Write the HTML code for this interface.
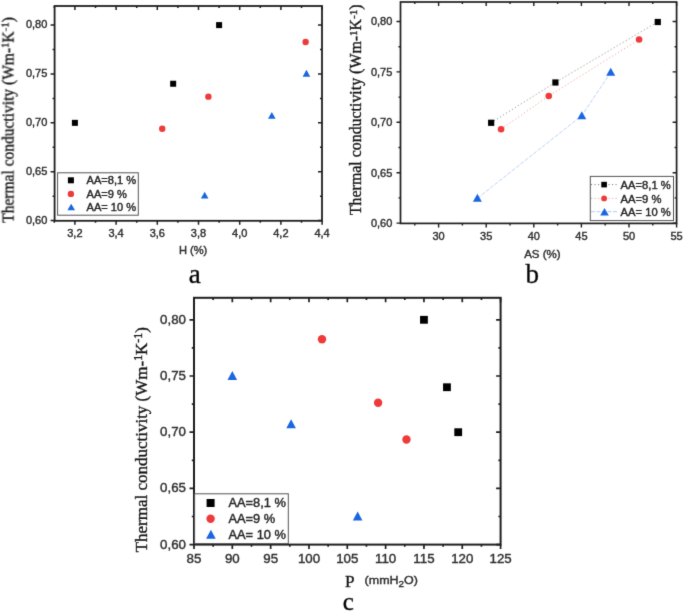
<!DOCTYPE html>
<html><head><meta charset="utf-8"><style>
html,body{margin:0;padding:0;background:#fff;width:685px;height:611px;overflow:hidden}
svg{display:block;will-change:transform}
text{stroke:#2a2a2a;stroke-width:0.4px}
</style></head><body>
<svg width="685" height="611" viewBox="0 0 685 611" font-family='"Liberation Sans", sans-serif'>
<defs><filter id="bl" x="0" y="0" width="685" height="611" filterUnits="userSpaceOnUse" color-interpolation-filters="sRGB"><feConvolveMatrix order="3" kernelMatrix="0.01134 0.08382 0.01134 0.08382 0.61935 0.08382 0.01134 0.08382 0.01134" edgeMode="duplicate" preserveAlpha="true"/></filter></defs><g filter="url(#bl)">
<rect width="685" height="611" fill="#fff"/>
<path d="M54.30 220.80v2 M54.30 6.00v2 M74.90 220.80v4 M74.90 6.00v4 M95.50 220.80v2 M95.50 6.00v2 M116.10 220.80v4 M116.10 6.00v4 M136.70 220.80v2 M136.70 6.00v2 M157.30 220.80v4 M157.30 6.00v4 M177.90 220.80v2 M177.90 6.00v2 M198.50 220.80v4 M198.50 6.00v4 M219.10 220.80v2 M219.10 6.00v2 M239.70 220.80v4 M239.70 6.00v4 M260.30 220.80v2 M260.30 6.00v2 M280.90 220.80v4 M280.90 6.00v4 M301.50 220.80v2 M301.50 6.00v2 M322.10 220.80v4 M322.10 6.00v4 M54.60 220.60h-4 M322.00 220.60h-4 M54.60 196.16h-2 M322.00 196.16h-2 M54.60 171.72h-4 M322.00 171.72h-4 M54.60 147.29h-2 M322.00 147.29h-2 M54.60 122.85h-4 M322.00 122.85h-4 M54.60 98.41h-2 M322.00 98.41h-2 M54.60 73.97h-4 M322.00 73.97h-4 M54.60 49.54h-2 M322.00 49.54h-2 M54.60 25.10h-4 M322.00 25.10h-4" stroke="#1e1e1e" stroke-width="1.5" fill="none"/>
<rect x="54.6" y="6.0" width="267.4" height="214.8" fill="none" stroke="#1e1e1e" stroke-width="1.8"/>
<text x="74.90" y="236.6" font-size="11" text-anchor="middle" fill="#333333">3,2</text>
<text x="116.10" y="236.6" font-size="11" text-anchor="middle" fill="#333333">3,4</text>
<text x="157.30" y="236.6" font-size="11" text-anchor="middle" fill="#333333">3,6</text>
<text x="198.50" y="236.6" font-size="11" text-anchor="middle" fill="#333333">3,8</text>
<text x="239.70" y="236.6" font-size="11" text-anchor="middle" fill="#333333">4,0</text>
<text x="280.90" y="236.6" font-size="11" text-anchor="middle" fill="#333333">4,2</text>
<text x="322.10" y="236.6" font-size="11" text-anchor="middle" fill="#333333">4,4</text>
<text x="47.3" y="223.90" font-size="11" text-anchor="end" fill="#333333">0,60</text>
<text x="47.3" y="175.02" font-size="11" text-anchor="end" fill="#333333">0,65</text>
<text x="47.3" y="126.15" font-size="11" text-anchor="end" fill="#333333">0,70</text>
<text x="47.3" y="77.27" font-size="11" text-anchor="end" fill="#333333">0,75</text>
<text x="47.3" y="28.40" font-size="11" text-anchor="end" fill="#333333">0,80</text>
<text x="193.1" y="254.3" font-size="11" text-anchor="middle" fill="#333333" textLength="28.4" lengthAdjust="spacingAndGlyphs">H (%)</text>
<text x="194.7" y="283" style="font-family:'Liberation Serif', serif" font-size="27" text-anchor="middle" fill="#000">a</text>
<text transform="translate(13.6 222.8) rotate(-90) scale(0.97 1)" style="font-family:'Liberation Serif', serif" font-size="16" fill="#111">Thermal conductivity (Wm-<tspan font-size="11.20" dy="-4.64">1</tspan><tspan dy="4.64">K</tspan><tspan font-size="11.20" dy="-4.64">-1</tspan><tspan dy="4.64">)</tspan></text>
<rect x="71.90" y="119.85" width="6" height="6" fill="#000000"/>
<rect x="170.16" y="80.75" width="6" height="6" fill="#000000"/>
<rect x="216.10" y="22.10" width="6" height="6" fill="#000000"/>
<circle cx="162.24" cy="128.72" r="3.2" fill="#ee3a3a"/>
<circle cx="208.39" cy="96.65" r="3.2" fill="#ee3a3a"/>
<circle cx="305.62" cy="42.01" r="3.2" fill="#ee3a3a"/>
<path d="M204.68 191.67L208.48 198.47L200.88 198.47Z" fill="#1a66e0"/>
<path d="M271.84 111.91L275.64 118.71L268.04 118.71Z" fill="#1a66e0"/>
<path d="M306.44 69.87L310.24 76.67L302.64 76.67Z" fill="#1a66e0"/>
<rect x="57.6" y="172.8" width="80.7" height="42.4" fill="#fff" stroke="#555" stroke-width="1"/>
<rect x="67.90" y="177.30" width="6" height="6" fill="#000000"/>
<circle cx="70.90" cy="193.90" r="3.2" fill="#ee3a3a"/>
<path d="M71.20 203.70L75.00 210.30L67.40 210.30Z" fill="#1a66e0"/>
<text x="86.5" y="184.2" font-size="10.5" fill="#222" textLength="49.6" lengthAdjust="spacingAndGlyphs">AA=8,1 %</text>
<text x="86.5" y="197.7" font-size="10.5" fill="#222" textLength="40.4" lengthAdjust="spacingAndGlyphs">AA=9 %</text>
<text x="86.5" y="211.2" font-size="10.5" fill="#222" textLength="49.6" lengthAdjust="spacingAndGlyphs">AA= 10 %</text>
<path d="M414.80 223.40v2 M414.80 2.00v2 M438.60 223.40v4 M438.60 2.00v4 M462.40 223.40v2 M462.40 2.00v2 M486.20 223.40v4 M486.20 2.00v4 M510.00 223.40v2 M510.00 2.00v2 M533.80 223.40v4 M533.80 2.00v4 M557.60 223.40v2 M557.60 2.00v2 M581.40 223.40v4 M581.40 2.00v4 M605.20 223.40v2 M605.20 2.00v2 M629.00 223.40v4 M629.00 2.00v4 M652.80 223.40v2 M652.80 2.00v2 M676.60 223.40v4 M676.60 2.00v4 M400.50 223.10h-4 M676.60 223.10h-4 M400.50 197.90h-2 M676.60 197.90h-2 M400.50 172.70h-4 M676.60 172.70h-4 M400.50 147.50h-2 M676.60 147.50h-2 M400.50 122.30h-4 M676.60 122.30h-4 M400.50 97.10h-2 M676.60 97.10h-2 M400.50 71.90h-4 M676.60 71.90h-4 M400.50 46.70h-2 M676.60 46.70h-2 M400.50 21.50h-4 M676.60 21.50h-4" stroke="#1e1e1e" stroke-width="1.4" fill="none"/>
<rect x="400.5" y="2.0" width="276.1" height="221.4" fill="none" stroke="#1e1e1e" stroke-width="1.7"/>
<text x="438.60" y="240.0" font-size="11" text-anchor="middle" fill="#333333">30</text>
<text x="486.20" y="240.0" font-size="11" text-anchor="middle" fill="#333333">35</text>
<text x="533.80" y="240.0" font-size="11" text-anchor="middle" fill="#333333">40</text>
<text x="581.40" y="240.0" font-size="11" text-anchor="middle" fill="#333333">45</text>
<text x="629.00" y="240.0" font-size="11" text-anchor="middle" fill="#333333">50</text>
<text x="676.60" y="240.0" font-size="11" text-anchor="middle" fill="#333333">55</text>
<text x="392.3" y="227.00" font-size="11" text-anchor="end" fill="#333333">0,60</text>
<text x="392.3" y="176.60" font-size="11" text-anchor="end" fill="#333333">0,65</text>
<text x="392.3" y="126.20" font-size="11" text-anchor="end" fill="#333333">0,70</text>
<text x="392.3" y="75.80" font-size="11" text-anchor="end" fill="#333333">0,75</text>
<text x="392.3" y="25.40" font-size="11" text-anchor="end" fill="#333333">0,80</text>
<text x="542.4" y="258.4" font-size="11" text-anchor="middle" fill="#333333" textLength="36.5" lengthAdjust="spacingAndGlyphs">AS (%)</text>
<text x="532.2" y="282.5" style="font-family:'Liberation Serif', serif" font-size="27" text-anchor="middle" fill="#000">b</text>
<text transform="translate(361.4 215.1) rotate(-90) scale(0.994 1)" style="font-family:'Liberation Serif', serif" font-size="16" fill="#111">Thermal conductivity (Wm-<tspan font-size="11.20" dy="-4.64">1</tspan><tspan dy="4.64">K</tspan><tspan font-size="11.20" dy="-4.64">-1</tspan><tspan dy="4.64">)</tspan></text>
<path d="M491.16 122.70 L555.42 82.38 L657.76 21.90" fill="none" stroke="#555" stroke-width="1" stroke-dasharray="1.1 2.4" stroke-opacity="0.65"/>
<path d="M500.97 129.25 L548.66 95.99 L639.01 39.54" fill="none" stroke="#f07070" stroke-width="1" stroke-dasharray="1.3 2.2" stroke-opacity="0.6"/>
<path d="M477.36 198.30 L581.79 115.64 L610.73 72.30" fill="none" stroke="#7aaaf0" stroke-width="1" stroke-dasharray="4 1.5" stroke-opacity="0.5"/>
<rect x="488.06" y="119.70" width="6.2" height="6.2" fill="#000000"/>
<rect x="552.32" y="79.38" width="6.2" height="6.2" fill="#000000"/>
<rect x="654.66" y="18.90" width="6.2" height="6.2" fill="#000000"/>
<circle cx="501.07" cy="129.25" r="3.3" fill="#ee3a3a"/>
<circle cx="548.76" cy="95.99" r="3.3" fill="#ee3a3a"/>
<circle cx="639.11" cy="39.54" r="3.3" fill="#ee3a3a"/>
<path d="M477.36 193.80L481.86 201.80L472.86 201.80Z" fill="#1a66e0"/>
<path d="M581.79 111.14L586.29 119.14L577.29 119.14Z" fill="#1a66e0"/>
<path d="M610.73 67.80L615.23 75.80L606.23 75.80Z" fill="#1a66e0"/>
<rect x="590.3" y="176.4" width="83.2" height="44.2" fill="#fff" stroke="#555" stroke-width="1"/>
<path d="M591 184.6H617.6" stroke="#555" stroke-dasharray="1.1 2.4" stroke-opacity="0.8"/>
<path d="M591 198.4H617.6" stroke="#f07070" stroke-dasharray="1.3 2.2" stroke-opacity="0.6"/>
<path d="M591 211.7H617.6" stroke="#7aaaf0" stroke-dasharray="4 1.5" stroke-opacity="0.6"/>
<rect x="601.30" y="181.80" width="5.6" height="5.6" fill="#000000"/>
<circle cx="604.10" cy="198.40" r="2.9" fill="#ee3a3a"/>
<path d="M604.50 207.95L608.80 215.45L600.20 215.45Z" fill="#1a66e0"/>
<text x="620.6" y="188.9" font-size="10.5" fill="#222" textLength="50.1" lengthAdjust="spacingAndGlyphs">AA=8,1 %</text>
<text x="620.6" y="202.5" font-size="10.5" fill="#222" textLength="40.8" lengthAdjust="spacingAndGlyphs">AA=9 %</text>
<text x="620.6" y="216.1" font-size="10.5" fill="#222" textLength="50.1" lengthAdjust="spacingAndGlyphs">AA= 10 %</text>
<path d="M194.00 544.60v4.5 M194.00 297.80v4.5 M213.16 544.60v2.2 M213.16 297.80v2.2 M232.32 544.60v4.5 M232.32 297.80v4.5 M251.49 544.60v2.2 M251.49 297.80v2.2 M270.65 544.60v4.5 M270.65 297.80v4.5 M289.81 544.60v2.2 M289.81 297.80v2.2 M308.98 544.60v4.5 M308.98 297.80v4.5 M328.14 544.60v2.2 M328.14 297.80v2.2 M347.30 544.60v4.5 M347.30 297.80v4.5 M366.46 544.60v2.2 M366.46 297.80v2.2 M385.62 544.60v4.5 M385.62 297.80v4.5 M404.79 544.60v2.2 M404.79 297.80v2.2 M423.95 544.60v4.5 M423.95 297.80v4.5 M443.11 544.60v2.2 M443.11 297.80v2.2 M462.27 544.60v4.5 M462.27 297.80v4.5 M481.44 544.60v2.2 M481.44 297.80v2.2 M500.60 544.60v4.5 M500.60 297.80v4.5 M194.00 544.60h-4.5 M500.60 544.60h-4.5 M194.00 516.50h-2.2 M500.60 516.50h-2.2 M194.00 488.40h-4.5 M500.60 488.40h-4.5 M194.00 460.30h-2.2 M500.60 460.30h-2.2 M194.00 432.20h-4.5 M500.60 432.20h-4.5 M194.00 404.10h-2.2 M500.60 404.10h-2.2 M194.00 376.00h-4.5 M500.60 376.00h-4.5 M194.00 347.90h-2.2 M500.60 347.90h-2.2 M194.00 319.80h-4.5 M500.60 319.80h-4.5" stroke="#1e1e1e" stroke-width="1.7" fill="none"/>
<rect x="194.0" y="297.8" width="306.6" height="246.8" fill="none" stroke="#1e1e1e" stroke-width="2.0"/>
<text x="194.00" y="563.4" font-size="13.3" text-anchor="middle" fill="#333333">85</text>
<text x="232.32" y="563.4" font-size="13.3" text-anchor="middle" fill="#333333">90</text>
<text x="270.65" y="563.4" font-size="13.3" text-anchor="middle" fill="#333333">95</text>
<text x="308.98" y="563.4" font-size="13.3" text-anchor="middle" fill="#333333">100</text>
<text x="347.30" y="563.4" font-size="13.3" text-anchor="middle" fill="#333333">105</text>
<text x="385.62" y="563.4" font-size="13.3" text-anchor="middle" fill="#333333">110</text>
<text x="423.95" y="563.4" font-size="13.3" text-anchor="middle" fill="#333333">115</text>
<text x="462.27" y="563.4" font-size="13.3" text-anchor="middle" fill="#333333">120</text>
<text x="500.60" y="563.4" font-size="13.3" text-anchor="middle" fill="#333333">125</text>
<text x="186.0" y="548.50" font-size="13.3" text-anchor="end" fill="#333333">0,60</text>
<text x="186.0" y="492.30" font-size="13.3" text-anchor="end" fill="#333333">0,65</text>
<text x="186.0" y="436.10" font-size="13.3" text-anchor="end" fill="#333333">0,70</text>
<text x="186.0" y="379.90" font-size="13.3" text-anchor="end" fill="#333333">0,75</text>
<text x="186.0" y="323.70" font-size="13.3" text-anchor="end" fill="#333333">0,80</text>
<text x="345" y="586.6" style="font-family:'Liberation Serif', serif" font-size="17.2" fill="#111">P</text>
<text x="364.6" y="584.1" font-size="11.7" fill="#333333" textLength="53.4" lengthAdjust="spacingAndGlyphs">(mmH<tspan font-size="9.2" dy="3">2</tspan><tspan dy="-3">O)</tspan></text>
<text x="348.4" y="609.8" style="font-family:'Liberation Serif', serif" font-size="25" text-anchor="middle" fill="#000">c</text>
<text transform="translate(147.0 552.3) rotate(-90) scale(1.03 1)" style="font-family:'Liberation Serif', serif" font-size="16.5" fill="#111">Thermal conductivity (Wm-<tspan font-size="11.55" dy="-4.78">1</tspan><tspan dy="4.78">K</tspan><tspan font-size="11.55" dy="-4.78">-1</tspan><tspan dy="4.78">)</tspan></text>
<rect x="420.05" y="315.90" width="7.8" height="7.8" fill="#000000"/>
<rect x="443.05" y="383.34" width="7.8" height="7.8" fill="#000000"/>
<rect x="454.31" y="428.30" width="7.8" height="7.8" fill="#000000"/>
<circle cx="322.00" cy="339.32" r="4.2" fill="#ee3a3a"/>
<circle cx="378.11" cy="402.71" r="4.2" fill="#ee3a3a"/>
<circle cx="406.47" cy="439.47" r="4.2" fill="#ee3a3a"/>
<path d="M232.32 371.00L237.12 380.00L227.52 380.00Z" fill="#1a66e0"/>
<path d="M291.12 419.33L295.92 428.33L286.32 428.33Z" fill="#1a66e0"/>
<path d="M357.65 511.50L362.45 520.50L352.85 520.50Z" fill="#1a66e0"/>
<rect x="194.6" y="493.8" width="93.7" height="49.8" fill="#fff" stroke="#555" stroke-width="1"/>
<rect x="206.60" y="499.00" width="8" height="8" fill="#000000"/>
<circle cx="210.60" cy="518.70" r="4.2" fill="#ee3a3a"/>
<path d="M210.90 529.80L215.70 538.80L206.10 538.80Z" fill="#1a66e0"/>
<text x="228.5" y="507.4" font-size="12" fill="#222" textLength="57.4" lengthAdjust="spacingAndGlyphs">AA=8,1 %</text>
<text x="228.5" y="523.1" font-size="12" fill="#222" textLength="46.7" lengthAdjust="spacingAndGlyphs">AA=9 %</text>
<text x="228.5" y="538.8" font-size="12" fill="#222" textLength="57.4" lengthAdjust="spacingAndGlyphs">AA= 10 %</text>
</g>
</svg>
</body></html>
